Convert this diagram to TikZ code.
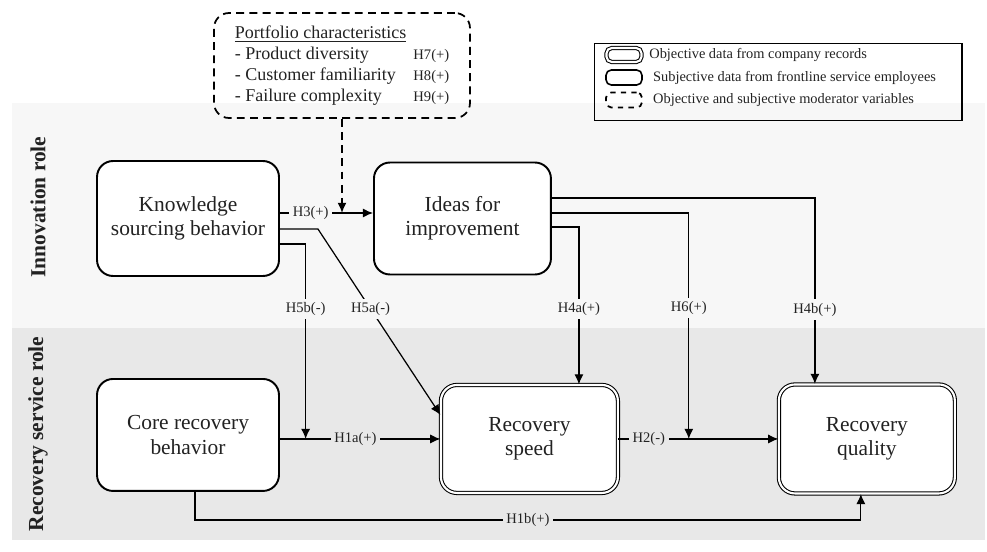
\documentclass[tikz,border=0pt]{standalone}
\usepackage{fontspec}
\setmainfont{Liberation Serif}
\usetikzlibrary{arrows.meta,positioning}
\definecolor{innovbg}{HTML}{F7F7F7}
\definecolor{recovbg}{HTML}{E8E8E8}
\definecolor{inkgray}{HTML}{222222}
\newcommand{\hyptxt}[1]{{\fontsize{8.3}{10}\selectfont #1}}
\tikzstyle{subjbox} = [rectangle, rounded corners=0.32cm, minimum width=3.64cm, minimum height=2.3cm, align=center, draw=black, line width=1.1pt, fill=white, text=inkgray, font=\fontsize{12.2}{13.8}\selectfont]
\tikzstyle{objbox} = [rectangle, rounded corners=0.32cm, minimum width=3.54cm, minimum height=2.16cm, align=center, draw=black, line width=0.6pt, double=white, double distance=1.2pt, fill=white, text=inkgray, font=\fontsize{12.2}{13.8}\selectfont]
\tikzstyle{modbox} = [rectangle, rounded corners=0.3cm, minimum width=5.12cm, minimum height=2.1cm, draw=black, line width=1pt, dash pattern=on 4.5pt off 3pt, text=inkgray]
\tikzstyle{arrow} = [line width=0.7pt,->,>={Latex[length=5.8pt,width=5.2pt]}]
\tikzstyle{modarrow} = [line width=1pt, dash pattern=on 4.5pt off 3pt,->,>={Latex[length=5.8pt,width=5.2pt]}]
\tikzstyle{hypup} = [fill=innovbg, inner sep=2pt, text=inkgray, font=\fontsize{8.3}{10}\selectfont]
\tikzstyle{hypdown} = [hypup, fill=recovbg]
\tikzstyle{rolelbl} = [rotate=90, text=inkgray, font=\bfseries\fontsize{12.2}{14}\selectfont]
\tikzstyle{keytxt} = [inner sep=0pt, text=inkgray, font=\fontsize{8.2}{10}\selectfont]

\begin{document}
\begin{tikzpicture}[x=0.02cm, y=-0.02cm]
\useasboundingbox (0,0) rectangle (987,551);
% role bands
\fill[innovbg] (12,103) rectangle (985,328);
\fill[recovbg] (12,328) rectangle (985,540);
\node (innov)[rolelbl] at (38,207) {Innovation role};
\node (recov)[rolelbl] at (38,434) {Recovery service role};

% legend
\node (legend)[rectangle, draw=black, line width=0.6pt, minimum width=7.36cm, minimum height=1.54cm] at (778,82) {};
\node (keyobj)[objbox, minimum width=0.7cm, minimum height=0.28cm, rounded corners=3pt] at (624,55) {};
\node (keysubj)[subjbox, minimum width=0.72cm, minimum height=0.3cm, rounded corners=3pt, line width=0.9pt] at (624,77.5) {};
\node (keymod)[modbox, minimum width=0.72cm, minimum height=0.3cm, rounded corners=3pt, dash pattern=on 3pt off 3pt] at (624,100) {};
\node (keyobjtxt)[keytxt, right=0.14cm of keyobj] {Objective data from company records};
\node (keysubjtxt)[keytxt, right=0.2cm of keysubj] {Subjective data from frontline service employees};
\node (keymodtxt)[keytxt, right=0.2cm of keymod] {Objective and subjective moderator variables};

% moderator
\node (port)[modbox] at (342,65.5) {\fontsize{10.25}{11.9}\selectfont
\begin{tabular}{@{}l@{\hspace{10pt}}l@{}}
\multicolumn{2}{@{}l@{}}{\underline{Portfolio characteristics}}\\
- Product diversity & \hyptxt{H7(+)}\\
- Customer familiarity & \hyptxt{H8(+)}\\
- Failure complexity & \hyptxt{H9(+)}
\end{tabular}};

% constructs
\node (know)[subjbox] at (188,218.5) {Knowledge\\sourcing behavior};
\node (idea)[subjbox, right of=know, node distance=5.49cm, minimum width=3.54cm, minimum height=2.24cm] {Ideas for\\improvement};
\node (core)[subjbox, below of=know, node distance=4.33cm, minimum height=2.24cm] {Core recovery\\behavior};
\node (speed)[objbox, right of=core, node distance=6.83cm, yshift=-0.08cm] {Recovery\\speed};
\node (qual)[objbox, right of=speed, node distance=6.75cm, minimum width=3.52cm, minimum height=2.18cm] {Recovery\\quality};

% hypotheses
\draw [arrow]([yshift=0.11cm]know.east) -- ([yshift=0.11cm]idea.west) node[hypup, pos=0.33]{H3(+)} coordinate[pos=0.68](modpt);
\draw [modarrow](port.south) -- (port.south |- modpt);
\draw [arrow](core.east |- speed.west) -- (speed.west) node[hypdown, pos=0.47]{H1a(+)} coordinate[pos=0.16](j1);
\draw [arrow](speed.east) -- (qual.west) node[hypdown, pos=0.19]{H2(-)} coordinate[pos=0.44](j2);
\draw [arrow]([yshift=-0.21cm]know.east) -- ++(38,0) -- node[hypup, pos=0.43]{H5a(-)} ([yshift=0.48cm]speed.west);
\draw [arrow]([yshift=-0.51cm]know.east) -| node[hypup, pos=0.667]{H5b(-)} (j1);
\draw [arrow]([yshift=-0.17cm]idea.east) -| node[hypup, pos=0.76]{H4a(+)} ([xshift=0.99cm]speed.north);
\draw [arrow]([yshift=0.11cm]idea.east) -| node[hypup, pos=0.71]{H6(+)} (j2);
\draw [arrow]([yshift=0.41cm]idea.east) -| node[hypup, pos=0.8]{H4b(+)} ([xshift=-1.04cm]qual.north);
\draw [arrow]([xshift=0.14cm]core.south) -- ++(0,28) -| node[hypdown, pos=0.25]{H1b(+)} ([xshift=-0.12cm]qual.south);
\end{tikzpicture}
\end{document}
